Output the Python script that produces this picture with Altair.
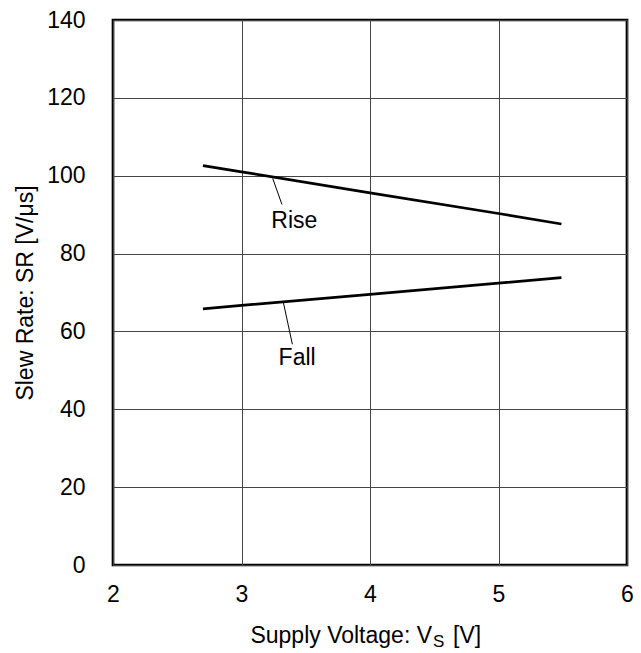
import altair as alt
import pandas as pd

FONT = "Liberation Sans"

# Series values
vs = [2.7, 3.0, 4.0, 5.0, 5.49]
rise = [102.6, 101.0, 95.6, 90.3, 87.6]
fall = [65.8, 66.7, 69.5, 72.4, 73.8]

# Annotation labels and leader lines (data coordinates)
ann_text = ["Rise", "Fall"]
ann_x = [3.411, 3.433]
ann_y = [86.5, 51.4]
lead_x1 = [3.243, 3.326]
lead_y1 = [99.3, 67.4]
lead_x2 = [3.315, 3.396]
lead_y2 = [92.6, 56.7]

x_ticks = [2, 3, 4, 5, 6]
y_ticks = [0, 20, 40, 60, 80, 100, 120, 140]

series = pd.DataFrame(
    {"Vs": vs + vs, "SR": rise + fall, "series": ["Rise"] * len(vs) + ["Fall"] * len(vs)}
)
ann = pd.DataFrame({"t": ann_text, "x": ann_x, "y": ann_y})
leads = pd.DataFrame({"x": lead_x1, "y": lead_y1, "x2": lead_x2, "y2": lead_y2})

xscale = alt.Scale(domain=[2, 6], nice=False, zero=False)
yscale = alt.Scale(domain=[0, 140], nice=False, zero=True)

xaxis = alt.Axis(values=x_ticks, format="d", title=None, ticks=False, tickSize=0, domain=False,
                 labelFont=FONT, labelFontSize=23, labelColor="black", labelPadding=18,
                 grid=True, gridColor="#444444", gridWidth=1, labelFlush=False)
yaxis = alt.Axis(values=y_ticks, format="d", title=None, ticks=False, tickSize=0, domain=False,
                 labelFont=FONT, labelFontSize=23, labelColor="black", labelPadding=28,
                 grid=True, gridColor="#444444", gridWidth=1, labelFlush=False)

lines = alt.Chart(series).mark_line(color="black", strokeWidth=2.7).encode(
    x=alt.X("Vs:Q", scale=xscale, axis=xaxis),
    y=alt.Y("SR:Q", scale=yscale, axis=yaxis),
    detail="series:N",
)

leaders = alt.Chart(leads).mark_rule(color="black", strokeWidth=1).encode(
    x=alt.X("x:Q", scale=xscale), y=alt.Y("y:Q", scale=yscale),
    x2="x2:Q", y2="y2:Q",
)

labels = alt.Chart(ann).mark_text(font=FONT, fontSize=23, color="black",
                                  align="center", baseline="alphabetic").encode(
    x=alt.X("x:Q", scale=xscale), y=alt.Y("y:Q", scale=yscale), text="t:N"
)

# Axis titles (x title has a subscript, built from pieces)
xt1 = alt.Chart(pd.DataFrame({"t": ["Supply Voltage: V"]})).mark_text(
    font=FONT, fontSize=23, color="black", align="right", baseline="alphabetic"
).encode(x=alt.value(319), y=alt.value(623), text="t:N")
xt2 = alt.Chart(pd.DataFrame({"t": ["S"]})).mark_text(
    font=FONT, fontSize=17, color="black", align="left", baseline="alphabetic"
).encode(x=alt.value(320), y=alt.value(627), text="t:N")
xt3 = alt.Chart(pd.DataFrame({"t": ["[V]"]})).mark_text(
    font=FONT, fontSize=23, color="black", align="left", baseline="alphabetic"
).encode(x=alt.value(340), y=alt.value(623), text="t:N")
yt = alt.Chart(pd.DataFrame({"t": ["Slew Rate: SR [V/μs]"]})).mark_text(
    font=FONT, fontSize=23, color="black", align="center", baseline="middle", angle=270
).encode(x=alt.value(-87), y=alt.value(273), text="t:N")

chart = alt.layer(lines, leaders, labels, xt1, xt2, xt3, yt).properties(
    width=514, height=545,
    autosize=alt.AutoSizeParams(type="none"),
    padding={"left": 113, "top": 20, "right": 14, "bottom": 88},
    background="white",
).configure_view(stroke="black", strokeWidth=2.7)

chart.save("out.html", embed_options={"renderer": "svg", "actions": False})
